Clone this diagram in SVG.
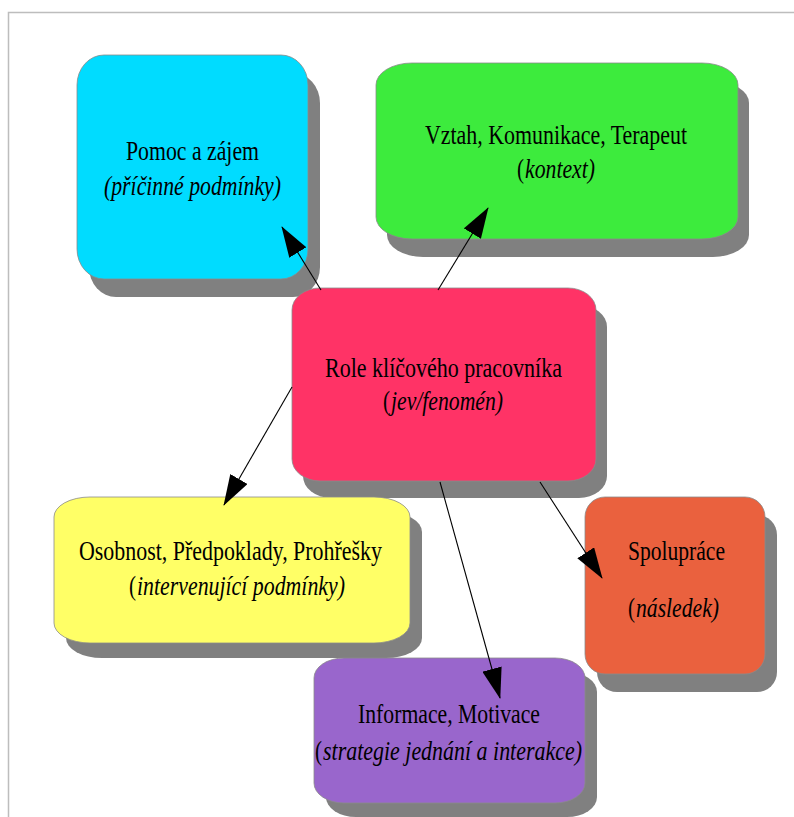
<svg xmlns="http://www.w3.org/2000/svg" width="794" height="817" viewBox="0 0 794 817">
<style>
.shadow{fill:#808080;}
.box{stroke:#8a8a8a;stroke-width:0.8;}
.t{font-family:"Liberation Serif","Times New Roman",serif;font-size:27px;fill:#000;text-anchor:middle;}
.s{text-anchor:start;}
.i{font-style:italic;}
.conn{stroke:#000;stroke-width:1.1;fill:none;marker-end:url(#ah);}
</style>
<defs>
<marker id="ah" markerUnits="userSpaceOnUse" viewBox="0 0 31 20" markerWidth="31" markerHeight="20" refX="30" refY="10" orient="auto">
<path d="M0,0 L31,10 L0,20 z" fill="#000"/>
</marker>
</defs>
<rect x="8.5" y="12.5" width="800" height="820" fill="#fff" stroke="#bdbdbd" stroke-width="1.5"/>

<g id="node-pomoc">
<rect class="shadow" x="89" y="73" width="231" height="224" rx="27" ry="30"/>
<rect class="box" x="77" y="55" width="231" height="224" rx="27" ry="30" fill="#00DCFF"/>
<text class="t" x="192.5" y="160" textLength="133" lengthAdjust="spacingAndGlyphs">Pomoc a zájem</text>
<text class="t i" x="192.5" y="195" textLength="177" lengthAdjust="spacingAndGlyphs">(příčinné podmínky)</text>
</g>

<g id="node-vztah">
<rect class="shadow" x="387" y="81" width="362" height="176" rx="36" ry="22"/>
<rect class="box" x="376" y="63" width="362" height="176" rx="36" ry="22" fill="#3DEB3D"/>
<text class="t" x="556" y="144" textLength="262" lengthAdjust="spacingAndGlyphs">Vztah, Komunikace, Terapeut</text>
<text class="t s" x="517" y="178" textLength="7" lengthAdjust="spacingAndGlyphs">(</text>
<text class="t s i" x="525" y="178" textLength="70" lengthAdjust="spacingAndGlyphs">kontext)</text>
</g>

<g id="node-role">
<rect class="shadow" x="303" y="305" width="304" height="193" rx="28" ry="22"/>
<rect class="box" x="292" y="288" width="304" height="193" rx="28" ry="22" fill="#FF3366"/>
<text class="t" x="443.5" y="377" textLength="237" lengthAdjust="spacingAndGlyphs">Role klíčového pracovníka</text>
<text class="t s" x="383" y="410" textLength="7" lengthAdjust="spacingAndGlyphs">(</text>
<text class="t s i" x="391" y="410" textLength="112" lengthAdjust="spacingAndGlyphs">jev/fenomén)</text>
</g>

<g id="node-osobnost">
<rect class="shadow" x="66" y="512" width="356" height="146" rx="36" ry="20"/>
<rect class="box" x="54" y="497" width="356" height="146" rx="36" ry="20" fill="#FFFF66"/>
<text class="t" x="230.5" y="560" textLength="303" lengthAdjust="spacingAndGlyphs">Osobnost, Předpoklady, Prohřešky</text>
<text class="t s" x="129" y="595" textLength="7" lengthAdjust="spacingAndGlyphs">(</text>
<text class="t s i" x="137" y="595" textLength="208" lengthAdjust="spacingAndGlyphs">intervenující podmínky)</text>
</g>

<g id="node-spoluprace">
<rect class="shadow" x="597" y="515" width="180" height="177" rx="20" ry="20"/>
<rect class="box" x="585" y="497" width="180" height="177" rx="20" ry="20" fill="#EA613E"/>
<text class="t" x="676.5" y="560" textLength="97" lengthAdjust="spacingAndGlyphs">Spolupráce</text>
<text class="t s" x="628" y="617" textLength="7" lengthAdjust="spacingAndGlyphs">(</text>
<text class="t s i" x="636" y="617" textLength="83" lengthAdjust="spacingAndGlyphs">následek)</text>
</g>

<g id="node-informace">
<rect class="shadow" x="326" y="672" width="271" height="145" rx="30" ry="20"/>
<rect class="box" x="314" y="658" width="271" height="145" rx="30" ry="20" fill="#9966CC"/>
<text class="t" x="449" y="723" textLength="182" lengthAdjust="spacingAndGlyphs">Informace, Motivace</text>
<text class="t s" x="315" y="760" textLength="7" lengthAdjust="spacingAndGlyphs">(</text>
<text class="t s i" x="323" y="760" textLength="259" lengthAdjust="spacingAndGlyphs">strategie jednání a interakce)</text>
</g>

<g id="connectors">
<line class="conn" x1="321" y1="290" x2="282" y2="227"/>
<line class="conn" x1="438" y1="290" x2="488" y2="208"/>
<line class="conn" x1="292" y1="387" x2="224" y2="505"/>
<line class="conn" x1="540" y1="482" x2="602" y2="578"/>
<line class="conn" x1="440" y1="482" x2="500" y2="698"/>
</g>
</svg>
